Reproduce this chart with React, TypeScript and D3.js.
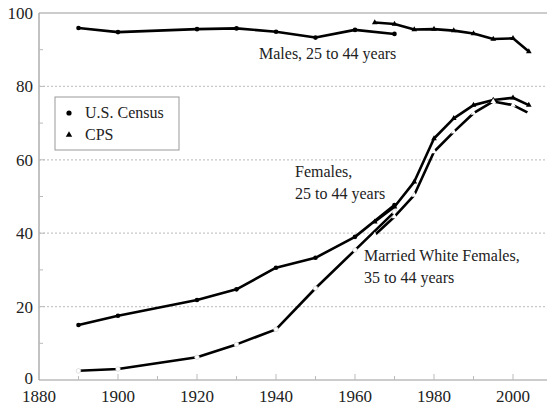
import { useEffect, useRef } from "react";
import * as d3 from "d3";

// census years (no 1910 point in the source)
const censusYears = [1890, 1900, 1920, 1930, 1940, 1950, 1960, 1970];
const malesCensus = [95.9, 94.8, 95.6, 95.8, 94.9, 93.3, 95.4, 94.3];
const femalesCensus = [15.0, 17.5, 21.8, 24.7, 30.6, 33.3, 39.0, 47.7];
const marriedCensus = [2.5, 3.0, 6.2, 9.7, 13.8, 25.0, 35.4, 45.8];

// CPS years
const cpsYears = [1965, 1970, 1975, 1980, 1985, 1990, 1995, 2000, 2004];
const malesCps = [97.4, 97.0, 95.5, 95.6, 95.2, 94.4, 92.9, 93.1, 89.5];
const femalesCps = [43.1, 47.2, 54.0, 65.8, 71.3, 74.9, 76.3, 76.9, 74.9];
const marriedCps = [39.5, 44.5, 50.4, 62.2, 67.6, 72.7, 75.9, 74.9, 72.7];

const xTicks = [1880, 1900, 1920, 1940, 1960, 1980, 2000];
const yTicks = [0, 20, 40, 60, 80, 100];

const legendItems = ["U.S. Census", "CPS"];

type Pt = { year: number; value: number };

const zip = (years: number[], vals: number[]): Pt[] =>
  years.map((year, i) => ({ year, value: vals[i] }));

const App = () => {
  const svgRef = useRef<SVGSVGElement | null>(null);

  useEffect(() => {
    if (!svgRef.current) return;
    const width = 547;
    const height = 405;
    const svg = d3.select(svgRef.current);
    svg.selectAll("*").remove();

    const x = d3.scaleLinear().domain([1880, 2010]).range([39, 552.5]);
    const y = d3.scaleLinear().domain([0, 100]).range([380, 13]);

    const font =
      "'Liberation Serif', 'Times New Roman', 'DejaVu Serif', 'Noto Serif', serif";
    const grid = "#bbb";

    // dotted grid
    svg
      .append("g")
      .selectAll("line")
      .data([20, 40, 60, 80])
      .join("line")
      .attr("x1", x(1880))
      .attr("x2", width)
      .attr("y1", (d) => y(d))
      .attr("y2", (d) => y(d))
      .attr("stroke", "#c8c8c8")
      .attr("stroke-width", 1.2)
      .attr("stroke-dasharray", "2,2");

    // frame: left, bottom, top
    const frame = [
      [x(1880), y(0), x(1880), y(100)],
      [x(1880), y(0), width, y(0)],
      [x(1880), y(100), width, y(100)],
    ];
    svg
      .append("g")
      .selectAll("line")
      .data(frame)
      .join("line")
      .attr("x1", (d) => d[0])
      .attr("y1", (d) => d[1])
      .attr("x2", (d) => d[2])
      .attr("y2", (d) => d[3])
      .attr("stroke", "#999")
      .attr("stroke-width", 1.2);

    // inside ticks
    svg
      .append("g")
      .selectAll("line")
      .data(d3.range(1890, 2010, 10))
      .join("line")
      .attr("x1", (d) => x(d))
      .attr("x2", (d) => x(d))
      .attr("y1", y(0))
      .attr("y2", (d) => y(0) - (d % 20 === 0 ? 6 : 4))
      .attr("stroke", grid)
      .attr("stroke-width", 1);
    svg
      .append("g")
      .selectAll("line")
      .data(d3.range(10, 100, 10))
      .join("line")
      .attr("x1", x(1880))
      .attr("x2", (d) => x(1880) + (d % 20 === 0 ? 6 : 4))
      .attr("y1", (d) => y(d))
      .attr("y2", (d) => y(d))
      .attr("stroke", grid)
      .attr("stroke-width", 1);

    // tick labels
    svg
      .append("g")
      .selectAll("text")
      .data(xTicks)
      .join("text")
      .attr("x", (d) => x(d))
      .attr("y", 402)
      .attr("text-anchor", "middle")
      .style("font-family", font)
      .attr("font-size", 17)
      .attr("fill", "#222")
      .text((d) => d);
    svg
      .append("g")
      .selectAll("text")
      .data(yTicks)
      .join("text")
      .attr("x", 33)
      .attr("y", (d) => (d === 0 ? y(d) + 4 : y(d) + 6))
      .attr("text-anchor", "end")
      .style("font-family", font)
      .attr("font-size", 17)
      .attr("fill", "#222")
      .text((d) => d);

    const line = d3
      .line<Pt>()
      .x((d) => x(d.year))
      .y((d) => y(d.value));

    const series = [
      { data: zip(censusYears, malesCensus), kind: "census", fill: "#000" },
      { data: zip(censusYears, femalesCensus), kind: "census", fill: "#000" },
      { data: zip(censusYears, marriedCensus), kind: "census", fill: "#fff" },
      { data: zip(cpsYears, malesCps), kind: "cps", fill: "#000" },
      { data: zip(cpsYears, femalesCps), kind: "cps", fill: "#000" },
      { data: zip(cpsYears, marriedCps), kind: "cps", fill: "#fff" },
    ];

    const tri = d3.symbol(d3.symbolTriangle, 14);

    series.forEach((s) => {
      svg
        .append("path")
        .datum(s.data)
        .attr("fill", "none")
        .attr("stroke", "#000")
        .attr("stroke-width", 2.6)
        .attr("stroke-linejoin", "round")
        .attr("d", line);
      const g = svg.append("g");
      if (s.kind === "census") {
        g.selectAll("circle")
          .data(s.data)
          .join("circle")
          .attr("cx", (d) => x(d.year))
          .attr("cy", (d) => y(d.value))
          .attr("r", 2.3)
          .attr("fill", s.fill)
          .attr("stroke", s.fill === "#fff" ? "#ccc" : "none")
          .attr("stroke-width", 0.6);
      } else {
        g.selectAll("path")
          .data(s.data)
          .join("path")
          .attr("d", tri)
          .attr("transform", (d) => `translate(${x(d.year)},${y(d.value)})`)
          .attr("fill", s.fill);
      }
    });

    // annotations
    const labels = [
      { x: 259, y: 59, t: "Males, 25 to 44 years" },
      { x: 295, y: 177, t: "Females," },
      { x: 295, y: 199, t: "25 to 44 years" },
      { x: 364, y: 261, t: "Married White Females," },
      { x: 364, y: 283, t: "35 to 44 years" },
    ];
    svg
      .append("g")
      .selectAll("text")
      .data(labels)
      .join("text")
      .attr("x", (d) => d.x)
      .attr("y", (d) => d.y)
      .style("font-family", font)
      .attr("font-size", 16)
      .attr("fill", "#222")
      .text((d) => d.t);

    // legend
    const lg = svg.append("g").attr("transform", "translate(55,97)");
    lg.append("rect")
      .attr("width", 124)
      .attr("height", 53)
      .attr("fill", "#fff")
      .attr("stroke", "#999")
      .attr("stroke-width", 1);
    lg.append("circle").attr("cx", 14).attr("cy", 16).attr("r", 2.6).attr("fill", "#000");
    lg.append("path")
      .attr("d", d3.symbol(d3.symbolTriangle, 18))
      .attr("transform", "translate(14,38)")
      .attr("fill", "#000");
    lg.selectAll("text.l")
      .data(legendItems)
      .join("text")
      .attr("class", "l")
      .attr("x", 30)
      .attr("y", (_, i) => 21 + i * 22)
      .style("font-family", font)
      .attr("font-size", 16)
      .attr("fill", "#222")
      .text((d) => d);

    svg.attr("width", width).attr("height", height);
  }, []);

  return (
    <svg
      ref={svgRef}
      width={547}
      height={405}
      style={{ position: "absolute", left: 0, top: 0, background: "#fff" }}
    />
  );
};

export default App;
